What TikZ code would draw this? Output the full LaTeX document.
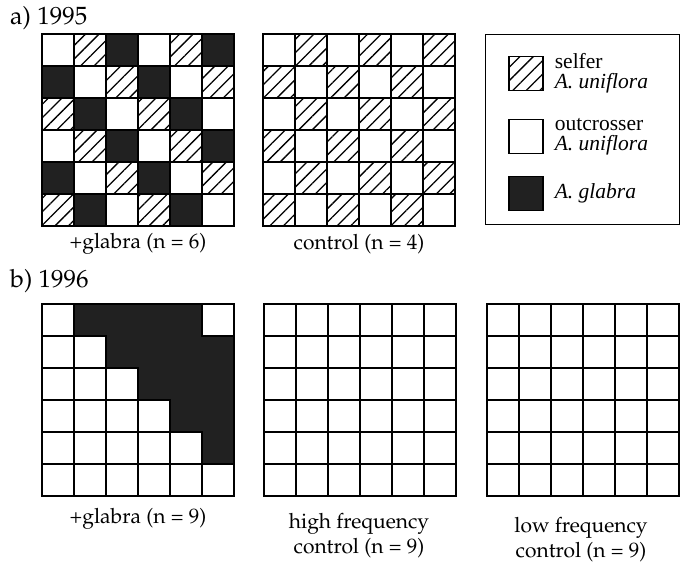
\documentclass[tikz,border=0pt]{standalone}
\usepackage[T1]{fontenc}
\usepackage{fontspec}
\newfontfamily\legendfont{Liberation Serif}
\newcommand{\palfont}{\fontencoding{T1}\fontfamily{ppl}\selectfont}
\usetikzlibrary{patterns.meta,positioning}
\tikzstyle{cell}    =[draw=black, line width=1.3pt]
\tikzstyle{selfer}  =[pattern={Lines[angle=45,distance=9.5pt,line width=1.3pt]}]
\tikzstyle{glabra}  =[fill=black!87]
\tikzstyle{swatch}  =[cell, minimum size=34pt, inner sep=0pt]
\tikzstyle{caption} =[font=\palfont\fontsize{21}{25}\selectfont, align=center, inner sep=0pt]
\tikzstyle{panel}   =[font=\palfont\fontsize{25}{29}\selectfont, anchor=base west, inner sep=0pt]
\tikzstyle{legtext} =[font=\legendfont\fontsize{21.5}{20}\selectfont, align=left, inner sep=0pt]

\begin{document}
\begin{tikzpicture}[x=1pt, y=-1pt]
  \path[fill=white] (0,0) rectangle (680,563);
  \useasboundingbox (0,0) rectangle (680,563);

  % ── a) 1995 ────────────────────────────────────────────────────────────────
  \node[panel] (panA) at (10,24) {a) 1995};

  % +glabra: white / selfer / glabra on diagonals
  \foreach \r in {0,...,5}
    \foreach \c in {0,...,5} {
      \pgfmathtruncatemacro{\k}{mod(\c-\r+6,3)}
      \ifcase\k
        \draw[cell] ({42+32*\c},{34+32*\r}) rectangle ++(32,32);
      \or
        \draw[cell, selfer] ({42+32*\c},{34+32*\r}) rectangle ++(32,32);
      \or
        \draw[cell, glabra] ({42+32*\c},{34+32*\r}) rectangle ++(32,32);
      \fi
    }

  % control: checkerboard of selfer / outcrosser
  \foreach \r in {0,...,5}
    \foreach \c in {0,...,5} {
      \pgfmathtruncatemacro{\k}{mod(\c+\r,2)}
      \ifcase\k
        \draw[cell] ({263+32*\c},{34+32*\r}) rectangle ++(32,32);
      \or
        \draw[cell, selfer] ({263+32*\c},{34+32*\r}) rectangle ++(32,32);
      \fi
    }

  \node[caption] (capA1) at (138,244) {+glabra (n = 6)};
  \node[caption] (capA2) at (359,244) {control (n = 4)};

  % ── legend ─────────────────────────────────────────────────────────────────
  \node[draw, line width=1pt, anchor=north west, minimum width=194pt,
        minimum height=190pt, inner sep=0pt] (legend) at (485,34) {};
  \node[swatch, selfer] (swSelf) at (526,73.5)  {};
  \node[swatch]         (swOut)  at (526,136.5) {};
  \node[swatch, glabra] (swGlab) at (526,193.5) {};
  \node[legtext, right=11pt of swSelf] (txSelf) {selfer\\\textit{A. uniflora}};
  \node[legtext, right=11pt of swOut]  (txOut)  {outcrosser\\\textit{A. uniflora}};
  \node[legtext, right=11pt of swGlab] (txGlab) {\textit{A. glabra}};

  % ── b) 1996 ────────────────────────────────────────────────────────────────
  \node[panel] (panB) at (10,287) {b) 1996};

  \foreach \gx in {42,264,487}
    \foreach \r in {0,...,5}
      \foreach \c in {0,...,5}
        \draw[cell] ({\gx+32*\c},{304+32*\r}) rectangle ++(32,32);

  % glabra block spreading from the top right corner
  \begin{scope}[shift={(42,304)}]
    \filldraw[cell, glabra] (32,0) -- (160,0) -- (160,32) -- (192,32) -- (192,160)
      -- (160,160) -- (160,128) -- (128,128) -- (128,96) -- (96,96) -- (96,64)
      -- (64,64) -- (64,32) -- (32,32) -- cycle;
  \end{scope}

  \node[caption] (capB1) at (138,519) {+glabra (n = 9)};
  \node[caption] (capB2) at (359,536) {high frequency\\control (n = 9)};
  \node[caption] (capB3) at (581,540) {low frequency\\control (n = 9)};

\end{tikzpicture}
\end{document}
